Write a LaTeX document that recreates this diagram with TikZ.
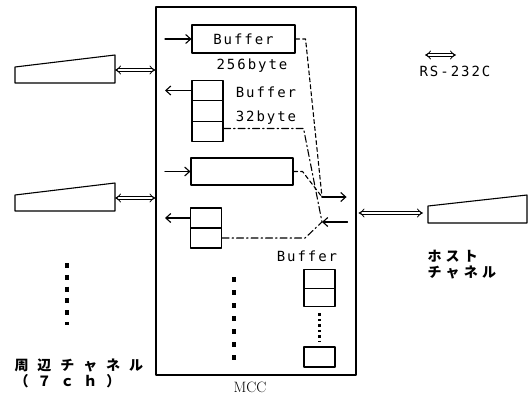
\documentclass[tikz,border=0pt]{standalone}
\usepackage{fontspec}
\usetikzlibrary{arrows.meta}
\newfontfamily\jpfont[LetterSpace=64]{Noto Sans CJK JP}
\newfontfamily\jphostfont[LetterSpace=30]{Noto Sans CJK JP}
\newfontfamily\lblfont[LetterSpace=14]{DejaVu Sans Mono}
\tikzset{
  box/.style={draw, line width=1.1pt, inner sep=0pt},
  cell/.style={box, minimum width=31, minimum height=20},
  lab/.style={font=\lblfont\fontsize{14}{14}\selectfont, inner sep=0pt},
  jp/.style={font=\jpfont\bfseries\fontsize{14}{16}\selectfont, inner sep=0pt, align=left},
  dbl/.style={double, double distance=2.2pt, line width=0.8pt, {Implies}-{Implies}},
  sendline/.style={dash pattern=on 4pt off 3pt},
  recvline/.style={dash pattern=on 7pt off 3pt on 1.5pt off 3pt},
  bigdots/.style={line width=3.5pt, line cap=butt},
}
\begin{document}
\begin{tikzpicture}[x=1pt, y=-1pt, line width=1.1pt, line cap=round, line join=round,
    >={Straight Barb[length=5pt,width=9pt]}]
  \useasboundingbox (0,0) rectangle (528,399);
  % MCC
  \node[box, minimum width=200, minimum height=368] (mcc) at (256,191) {};
  \node[font=\fontsize{15}{15}\selectfont, inner sep=0pt] (mcclab) at (250,387) {MCC};
  % buffers
  \node[box, minimum width=103, minimum height=28, lab] (buf1) at (243.5,39) {Buffer};
  \node[lab] (size1) at (252,66) {256byte};
  \foreach \i/\y in {a/90.5,b/111,c/131.5} \node[cell, minimum height=20.5] (bb\i) at (207.5,\y) {};
  \node[lab] (buflab2) at (266,92) {Buffer};
  \node[lab] (size2) at (266,118) {32byte};
  \node[box, minimum width=102, minimum height=27] (buf3) at (242,171.5) {};
  \foreach \i/\y in {a/218,b/238} \node[cell] (bd\i) at (206,\y) {};
  \node[lab] (buflab5) at (307,256) {Buffer};
  \foreach \i/\y in {a/279,b/297.5} \node[cell, minimum height=18.5] (be\i) at (319.5,\y) {};
  \node[cell] (bf) at (319.5,357) {};
  % in / out
  \coordinate (inx) at (165,0);
  \draw[->] (buf1.west -| inx) -- (buf1.west);
  \draw[->] (bba.west) -- (bba.west -| inx);
  \draw[->] (buf3.west -| inx) -- (buf3.west);
  \draw[->] (bda.west) -- (bda.west -| inx);
  \coordinate (tx) at (322,197);
  \coordinate (rx) at (322,222);
  \draw[->, shorten >=10pt] (tx) -- (tx -| mcc.east);
  \draw[->, shorten <=9pt] (rx -| mcc.east) -- (rx);
  \draw[sendline] (buf1.east) -- ++(10,0) -- (tx);
  \draw[sendline] (buf3.east) -- ++(9,0) -- (tx);
  \draw[recvline] ([yshift=3pt]bbc.east) -- ++(80,0) -- (rx);
  \draw[recvline] (bdb.east) -- ++(83,0) -- (rx);
  \draw[bigdots, line width=2.5pt, dash pattern=on 2.5pt off 3pt, shorten <=6pt, shorten >=4pt] (beb) -- (bf);
  \draw[bigdots, dash pattern=on 5pt off 8pt] (234,277) -- (234,360);
  % peripheral channels
  \foreach \y [count=\k] in {0,128} {
    \draw (15,67+\y) -- (115,55+\y) -- (115,83+\y) -- (15,83+\y) -- cycle;
    \coordinate (ch\k) at (115,70+\y);
    \draw[dbl] (ch\k) -- (ch\k -| mcc.west);
  }
  \draw[bigdots, dash pattern=on 5pt off 6.8pt] (67,263) -- (67,325);
  \node[jp, anchor=north west] (periph) at (14,358) {周辺チャネル\\（７ｃｈ）};
  % host
  \draw (428,206) -- (527,195) -- (527,223) -- (428,223) -- cycle;
  \coordinate (host) at (428,213);
  \draw[dbl, shorten <=2pt, shorten >=5pt] (host -| mcc.east) -- (host);
  \node[jp, font=\jphostfont\bfseries\fontsize{14}{16}\selectfont, anchor=north west] (hostlab) at (427,250) {ホスト\\チャネル};
  % legend
  \coordinate (leg) at (425,55);
  \draw[dbl] (leg) -- ++(31,0);
  \node[lab] (rs) at (455,71) {RS-232C};
\end{tikzpicture}
\end{document}
